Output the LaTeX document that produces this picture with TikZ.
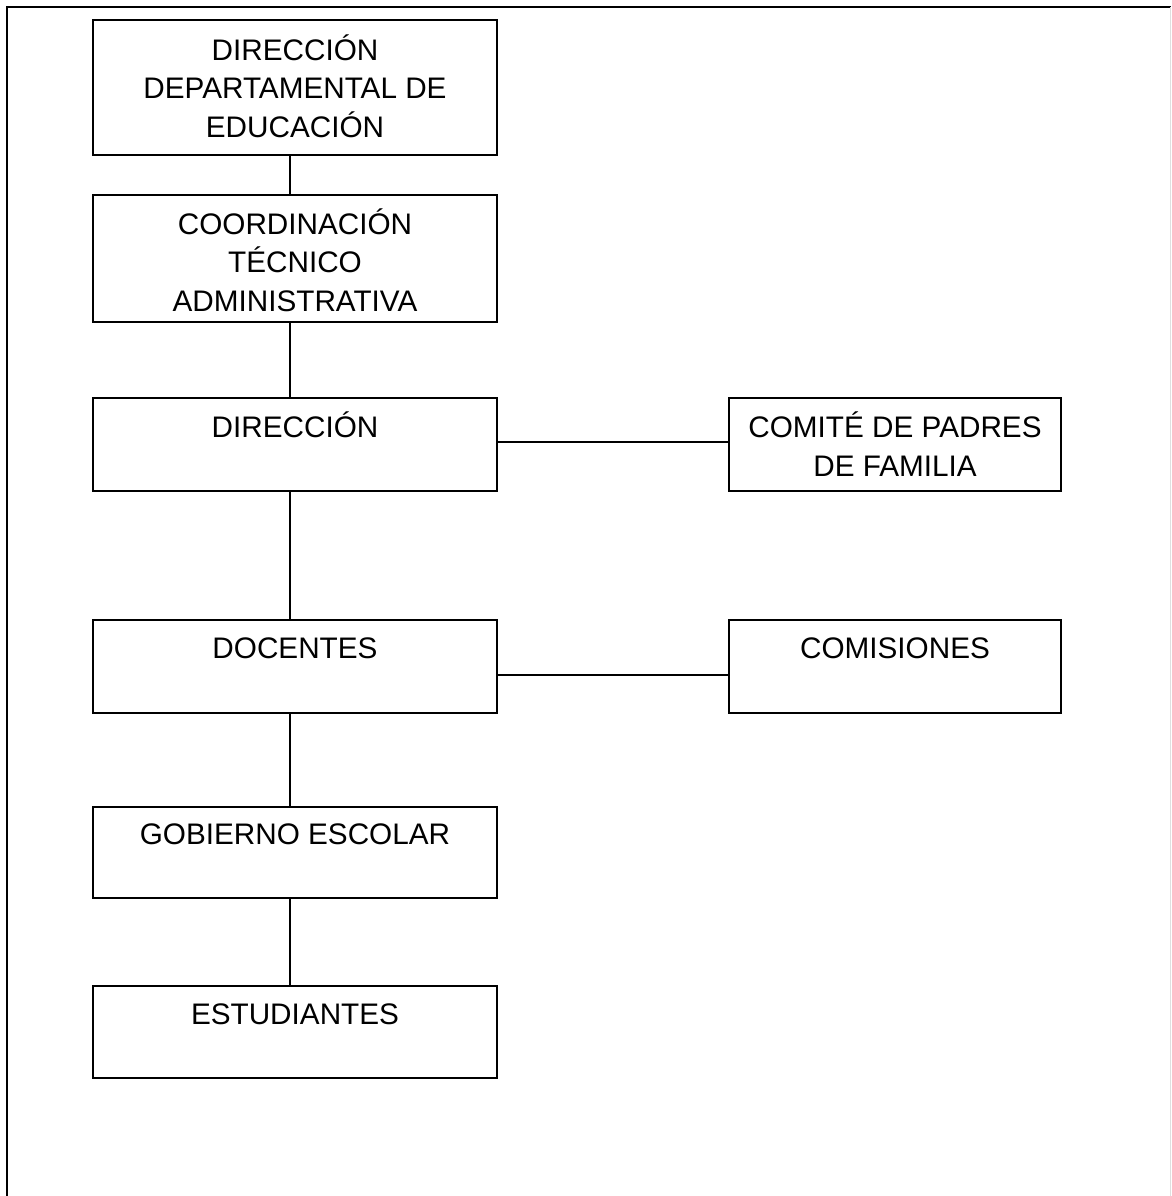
\documentclass[tikz,border=0pt]{standalone}
\usepackage{fontspec}
\setmainfont{Liberation Sans}
\begin{document}
\begin{tikzpicture}[x=1pt,y=-1pt,
  box/.style={draw=black, line width=2pt, minimum width=404pt, inner sep=0pt, outer sep=0pt},
  sbox/.style={draw=black, line width=2pt, minimum width=332pt, inner sep=0pt, outer sep=0pt},
  txt/.style={font=\fontsize{29.7}{38.7}\selectfont, align=center, inner sep=0pt},
  conn/.style={draw=black, line width=2pt}]
\useasboundingbox (0,0) rectangle (1171,1196);
% outer frame
\draw[black, line width=2pt] (7,1196) -- (7,7) -- (1171,7);
\draw[gray!25, line width=1pt] (1170,7) -- (1170,1196);
% boxes
\node[box, minimum height=135pt] (b1) at (295,87.5) {};
\node[box, minimum height=127pt] (b2) at (295,258.5) {};
\node[box, minimum height=93pt] (b3) at (295,444.5) {};
\node[sbox, minimum height=93pt] (b4) at (895,444.5) {};
\node[box, minimum height=93pt] (b5) at (295,666.5) {};
\node[sbox, minimum height=93pt] (b6) at (895,666.5) {};
\node[box, minimum height=91pt] (b7) at (295,852.5) {};
\node[box, minimum height=92pt] (b8) at (295,1032) {};
% texts
\node[txt] (t1) at (295,86) {DIRECCIÓN\\DEPARTAMENTAL DE\\EDUCACIÓN};
\node[txt] (t2) at (295,260) {COORDINACIÓN\\TÉCNICO\\ADMINISTRATIVA};
\node[txt] (t3) at (295,425) {DIRECCIÓN};
\node[txt] (t4) at (895,444) {COMITÉ DE PADRES\\DE FAMILIA};
\node[txt] (t5) at (295,648) {DOCENTES};
\node[txt] (t6) at (895,648) {COMISIONES};
\node[txt] (t7) at (295,834) {GOBIERNO ESCOLAR};
\node[txt] (t8) at (295,1014) {ESTUDIANTES};
% connectors
\draw[conn] (b1.south -| 290,0) -- (b2.north -| 290,0);
\draw[conn] (b2.south -| 290,0) -- (b3.north -| 290,0);
\draw[conn] (b3.south -| 290,0) -- (b5.north -| 290,0);
\draw[conn] (b5.south -| 290,0) -- (b7.north -| 290,0);
\draw[conn] (b7.south -| 290,0) -- (b8.north -| 290,0);
\draw[conn] (b3.east |- 0,442) -- (b4.west |- 0,442);
\draw[conn] (b5.east |- 0,675) -- (b6.west |- 0,675);
\end{tikzpicture}
\end{document}
